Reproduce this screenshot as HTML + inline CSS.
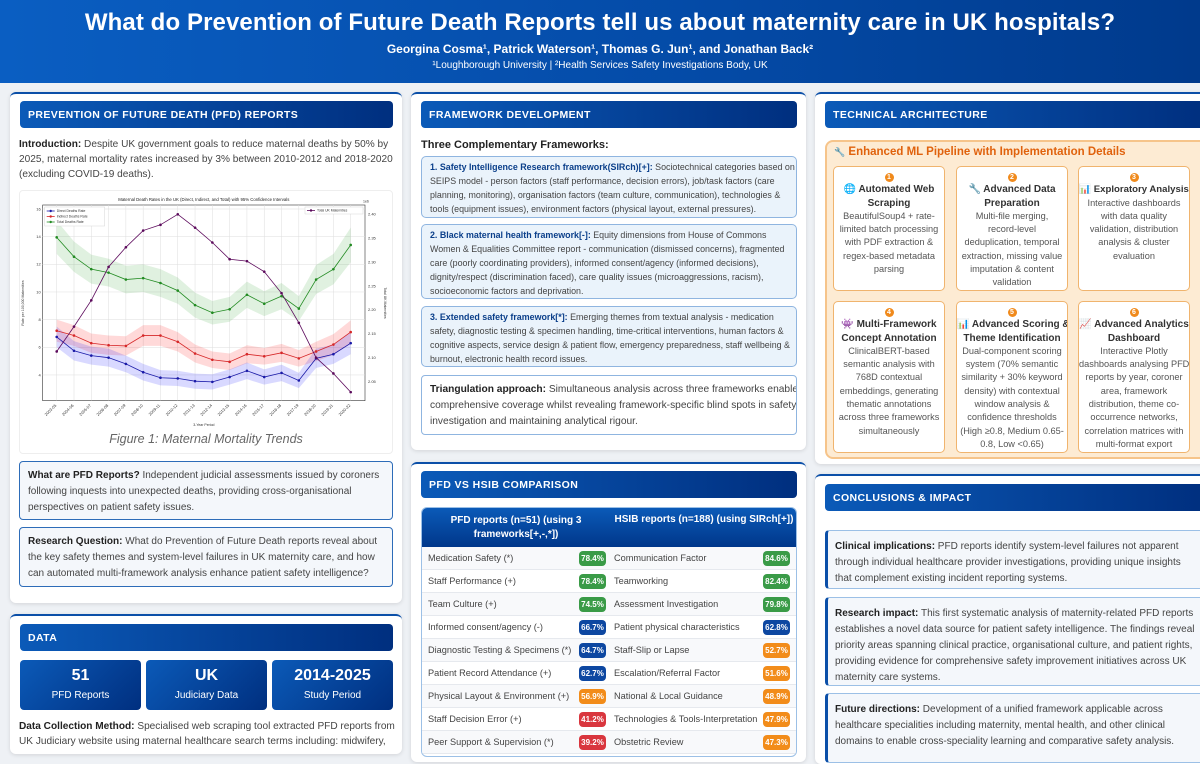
<!DOCTYPE html>
<html><head><meta charset="utf-8">
<style>
*{box-sizing:border-box;margin:0;padding:0}
body{width:1200px;height:747px;overflow:hidden;background:#eef1f5;font-family:"Liberation Sans",Arial,sans-serif;color:#333;position:relative}
.abs{position:absolute}
#hdr{left:0;top:0;width:1200px;height:83px;background:linear-gradient(90deg,#0a5ec2,#044aa6 60%,#003a8c);color:#fff;text-align:center}
#hdr h1{font-size:24px;font-weight:900;margin-top:9px;letter-spacing:0.1px}
#hdr .au{font-size:12px;font-weight:bold;margin-top:5px}
#hdr .af{font-size:10px;margin-top:4px}
.card{position:absolute;background:#fff;border-top:2px solid #0b4fa8;border-radius:6px;box-shadow:0 1px 4px rgba(0,0,0,.12)}
.sh{position:absolute;height:27px;border-radius:4px;background:linear-gradient(90deg,#0b5ab8,#002f7f);color:#fff;font-weight:900;font-size:10.5px;letter-spacing:.4px;padding:8px 8px;white-space:nowrap;overflow:hidden}
.t{position:absolute;font-size:10.1px;line-height:15px;white-space:nowrap;color:#444}
.t b{color:#222}
.ib{position:absolute;border:1px solid #8fb5e0;background:#eaf3fb;border-radius:5px;padding:3px 8px;font-size:8.9px;line-height:14px;white-space:nowrap;color:#444;overflow:hidden}
.ib b{color:#0b3f8a}
.qb{position:absolute;border:1px solid #2d6cb8;background:#f4f7fb;border-radius:4px;padding:6px 8px;font-size:10px;line-height:16px;white-space:nowrap;color:#444;overflow:hidden}
.qb b{color:#222}
.stat{position:absolute;top:660px;height:50px;width:121px;border-radius:4px;background:linear-gradient(135deg,#0b5ab8,#002f7f);color:#fff;text-align:center}
.stat .n{font-size:16px;font-weight:bold;margin-top:7px}
.stat .l{font-size:10px;margin-top:5px}
.pb{position:absolute;background:#fff;border:1px solid #f0b46e;border-radius:5px;text-align:center;font-size:9.2px;line-height:13.3px;color:#555;padding-top:3px;overflow:hidden;white-space:nowrap}
.pb .num{display:inline-block;width:9px;height:9px;border-radius:50%;background:#f08a1c;color:#fff;font-size:7px;line-height:9px;font-weight:bold}
.pb .tt{font-weight:bold;color:#333;font-size:10px}
.cb{position:absolute;left:825px;width:380px;border:1px solid #9cc0e6;border-left:3px solid #0b4fa8;background:#f4f7fb;border-radius:4px;padding:8px 7px;font-size:10px;line-height:16px;white-space:nowrap;color:#444;overflow:hidden}
.cb b{color:#222}
#tbl{position:absolute;left:421px;top:507px;width:376px;height:250px;border:1px solid #9cc0e6;border-radius:6px;overflow:hidden;background:#fff}
#tbl .th{height:39px;background:linear-gradient(180deg,#0b5ab8,#00378a);color:#fff;font-weight:bold;font-size:10px;position:relative}
.row{position:absolute;left:0;width:376px;height:23px;border-bottom:1px solid #e6e9ee;font-size:9.2px;color:#444}
.row span{position:absolute;top:6px;white-space:nowrap}
.bd{position:absolute;top:4px;height:15px;width:27px;border-radius:4px;color:#fff;font-size:8px;font-weight:bold;text-align:center;line-height:15px}
</style></head><body>
<div id="hdr" class="abs">
<h1>What do Prevention of Future Death Reports tell us about maternity care in UK hospitals?</h1>
<div class="au">Georgina Cosma¹, Patrick Waterson¹, Thomas G. Jun¹, and Jonathan Back²</div>
<div class="af">¹Loughborough University | ²Health Services Safety Investigations Body, UK</div>
</div>

<!-- Column 1 -->
<div class="card" style="left:10px;top:92px;width:392px;height:511px"></div>
<div class="sh" style="left:20px;top:101px;width:373px">PREVENTION OF FUTURE DEATH (PFD) REPORTS</div>
<div class="t" style="left:19px;top:137px"><b>Introduction:</b> Despite UK government goals to reduce maternal deaths by 50% by<br>2025, maternal mortality rates increased by 3% between 2010-2012 and 2018-2020<br>(excluding COVID-19 deaths).</div>
<div class="abs" style="left:19px;top:190px;width:374px;height:264px;border:1px solid #eee;border-radius:4px;background:#fff"></div>
<svg id="chart" class="abs" style="left:20px;top:190px" width="375" height="240"></svg>
<div class="abs" style="left:19px;top:432px;width:374px;text-align:center;font-style:italic;font-size:12.5px;color:#666">Figure 1: Maternal Mortality Trends</div>
<div class="qb" style="left:19px;top:461px;width:374px;height:59px"><b>What are PFD Reports?</b> Independent judicial assessments issued by coroners<br>following inquests into unexpected deaths, providing cross-organisational<br>perspectives on patient safety issues.</div>
<div class="qb" style="left:19px;top:527px;width:374px;height:60px"><b>Research Question:</b> What do Prevention of Future Death reports reveal about<br>the key safety themes and system-level failures in UK maternity care, and how<br>can automated multi-framework analysis enhance patient safety intelligence?</div>

<div class="card" style="left:10px;top:614px;width:392px;height:140px"></div>
<div class="sh" style="left:20px;top:624px;width:373px">DATA</div>
<div class="stat" style="left:20px"><div class="n">51</div><div class="l">PFD Reports</div></div>
<div class="stat" style="left:146px"><div class="n">UK</div><div class="l">Judiciary Data</div></div>
<div class="stat" style="left:272px"><div class="n">2014-2025</div><div class="l">Study Period</div></div>
<div class="t" style="left:19px;top:719px"><b>Data Collection Method:</b> Specialised web scraping tool extracted PFD reports from<br>UK Judiciary website using maternal healthcare search terms including: midwifery,</div>

<!-- Column 2 -->
<div class="card" style="left:411px;top:92px;width:395px;height:358px"></div>
<div class="sh" style="left:421px;top:101px;width:376px">FRAMEWORK DEVELOPMENT</div>
<div class="t" style="left:421px;top:138px;font-weight:bold;color:#222;font-size:11px">Three Complementary Frameworks:</div>
<div class="ib" style="left:421px;top:156px;width:376px;height:62px"><b>1. Safety Intelligence Research framework(SIRch)[+]:</b> Sociotechnical categories based on<br>SEIPS model - person factors (staff performance, decision errors), job/task factors (care<br>planning, monitoring), organisation factors (team culture, communication), technologies &amp;<br>tools (equipment issues), environment factors (physical layout, external pressures).</div>
<div class="ib" style="left:421px;top:224px;width:376px;height:75px"><b>2. Black maternal health framework[-]:</b> Equity dimensions from House of Commons<br>Women &amp; Equalities Committee report - communication (dismissed concerns), fragmented<br>care (poorly coordinating providers), informed consent/agency (informed decisions),<br>dignity/respect (discrimination faced), care quality issues (microaggressions, racism),<br>socioeconomic factors and deprivation.</div>
<div class="ib" style="left:421px;top:306px;width:376px;height:61px"><b>3. Extended safety framework[*]:</b> Emerging themes from textual analysis - medication<br>safety, diagnostic testing &amp; specimen handling, time-critical interventions, human factors &amp;<br>cognitive aspects, service design &amp; patient flow, emergency preparedness, staff wellbeing &amp;<br>burnout, electronic health record issues.</div>
<div class="qb" style="left:421px;top:375px;width:376px;height:60px;border-color:#8fb5e0;background:#fff;font-size:10.2px"><b>Triangulation approach:</b> Simultaneous analysis across three frameworks enables<br>comprehensive coverage whilst revealing framework-specific blind spots in safety<br>investigation and maintaining analytical rigour.</div>

<div class="card" style="left:411px;top:462px;width:395px;height:300px"></div>
<div class="sh" style="left:421px;top:471px;width:376px">PFD VS HSIB COMPARISON</div>
<div id="tbl">
<div class="th">
<div class="abs" style="left:0;width:188px;top:6px;text-align:center;line-height:14px">PFD reports (n=51) (using 3<br>frameworks[+,-,*])</div>
<div class="abs" style="left:188px;width:188px;top:6px;text-align:center">HSIB reports (n=188) (using SIRch[+])</div>
</div>
</div>

<!-- Column 3 -->
<div class="card" style="left:815px;top:92px;width:400px;height:372px"></div>
<div class="sh" style="left:825px;top:101px;width:380px">TECHNICAL ARCHITECTURE</div>
<div class="abs" style="left:825px;top:140px;width:385px;height:319px;background:#fdebd3;border:2px solid #f6c48a;border-radius:8px"></div>
<div class="abs" style="left:834px;top:146px;font-size:11.5px;font-weight:bold;color:#e0620d"><span style="color:#aaa;font-size:9px">🔧</span> Enhanced ML Pipeline with Implementation Details</div>
<div class="pb" style="left:833px;top:166px;width:112px;height:125px"><span class="num">1</span><br><span class="tt">🌐 Automated Web<br>Scraping</span><br>BeautifulSoup4 + rate-<br>limited batch processing<br>with PDF extraction &amp;<br>regex-based metadata<br>parsing</div>
<div class="pb" style="left:956px;top:166px;width:112px;height:125px"><span class="num">2</span><br><span class="tt">🔧 Advanced Data<br>Preparation</span><br>Multi-file merging,<br>record-level<br>deduplication, temporal<br>extraction, missing value<br>imputation &amp; content<br>validation</div>
<div class="pb" style="left:1078px;top:166px;width:112px;height:125px"><span class="num">3</span><br><span class="tt" style="font-size:9.6px">📊 Exploratory Analysis</span><br>Interactive dashboards<br>with data quality<br>validation, distribution<br>analysis &amp; cluster<br>evaluation</div>
<div class="pb" style="left:833px;top:301px;width:112px;height:152px"><span class="num">4</span><br><span class="tt">👾 Multi-Framework<br>Concept Annotation</span><br>ClinicalBERT-based<br>semantic analysis with<br>768D contextual<br>embeddings, generating<br>thematic annotations<br>across three frameworks<br>simultaneously</div>
<div class="pb" style="left:956px;top:301px;width:112px;height:152px"><span class="num">5</span><br><span class="tt">📊 Advanced Scoring &amp;<br>Theme Identification</span><br>Dual-component scoring<br>system (70% semantic<br>similarity + 30% keyword<br>density) with contextual<br>window analysis &amp;<br>confidence thresholds<br>(High ≥0.8, Medium 0.65-<br>0.8, Low &lt;0.65)</div>
<div class="pb" style="left:1078px;top:301px;width:112px;height:152px"><span class="num">6</span><br><span class="tt">📈 Advanced Analytics<br>Dashboard</span><br>Interactive Plotly<br>dashboards analysing PFD<br>reports by year, coroner<br>area, framework<br>distribution, theme co-<br>occurrence networks,<br>correlation matrices with<br>multi-format export</div>

<div class="card" style="left:815px;top:474px;width:400px;height:290px"></div>
<div class="sh" style="left:825px;top:484px;width:380px">CONCLUSIONS &amp; IMPACT</div>
<div class="cb" style="top:530px;height:59px"><b>Clinical implications:</b> PFD reports identify system-level failures not apparent<br>through individual healthcare provider investigations, providing unique insights<br>that complement existing incident reporting systems.</div>
<div class="cb" style="top:597px;height:89px"><b>Research impact:</b> This first systematic analysis of maternity-related PFD reports<br>establishes a novel data source for patient safety intelligence. The findings reveal<br>priority areas spanning clinical practice, organisational culture, and patient rights,<br>providing evidence for comprehensive safety improvement initiatives across UK<br>maternity care systems.</div>
<div class="cb" style="top:693px;height:70px"><b>Future directions:</b> Development of a unified framework applicable across<br>healthcare specialities including maternity, mental health, and other clinical<br>domains to enable cross-speciality learning and comparative safety analysis.</div>

<script>
// ---- Table data ----
const pfdThemes=["Medication Safety (*)","Staff Performance (+)","Team Culture (+)","Informed consent/agency (-)","Diagnostic Testing & Specimens (*)","Patient Record Attendance (+)","Physical Layout & Environment (+)","Staff Decision Error (+)","Peer Support & Supervision (*)"];
const pfdPct=[78.4,78.4,74.5,66.7,64.7,62.7,56.9,41.2,39.2];
const hsibThemes=["Communication Factor","Teamworking","Assessment Investigation","Patient physical characteristics","Staff-Slip or Lapse","Escalation/Referral Factor","National & Local Guidance","Technologies & Tools-Interpretation","Obstetric Review"];
const hsibPct=[84.6,82.4,79.8,62.8,52.7,51.6,48.9,47.9,47.3];
function badgeColor(v){return v>=70?'#3a9b47':(v>=60?'#0d47a1':(v>=45?'#f28c1a':'#d9363e'));}
const tbl=document.getElementById('tbl');
for(let i=0;i<pfdThemes.length;i++){
  const r=document.createElement('div');
  r.className='row';
  
  
  r.style.top=(39+i*23)+'px';
  r.style.background=i%2?'#fff':'#f8f9fb';
  const a=document.createElement('span');a.style.left='6px';a.textContent=pfdThemes[i];
  
  
  const b=document.createElement('div');b.className='bd';b.style.left='157px';b.style.background=badgeColor(pfdPct[i]);b.textContent=pfdPct[i].toFixed(1)+'%';
  
  
  const c=document.createElement('span');c.style.left='192px';c.textContent=hsibThemes[i];
  
  
  const d=document.createElement('div');d.className='bd';d.style.left='341px';d.style.background=badgeColor(hsibPct[i]);d.textContent=hsibPct[i].toFixed(1)+'%';
  
  
  r.append(a,b,c,d);tbl.appendChild(r);
}

// ---- Chart data ----
const periods=["2003-05","2004-06","2005-07","2006-08","2007-09","2008-10","2009-11","2010-12","2011-13","2012-14","2013-15","2014-16","2015-17","2016-18","2017-19","2018-20","2019-21","2020-22"];
const directRate=[6.75,5.75,5.4,5.25,4.8,4.2,3.8,3.75,3.55,3.5,3.85,4.3,3.85,4.15,3.6,5.2,5.5,6.3];
const indirectRate=[7.2,6.85,6.3,6.15,6.1,6.85,6.85,6.4,5.55,5.1,4.95,5.5,5.35,5.6,5.2,5.7,6.2,7.1];
const totalRate=[13.95,12.55,11.65,11.4,10.9,11.0,10.65,10.1,9.05,8.5,8.75,9.8,9.15,9.7,8.8,10.9,11.65,13.4];
const directCI=[0.75,0.7,0.65,0.65,0.6,0.6,0.55,0.55,0.55,0.55,0.55,0.6,0.55,0.6,0.55,0.7,0.7,0.8];
const indirectCI=[0.8,0.75,0.7,0.7,0.7,0.75,0.75,0.7,0.65,0.6,0.6,0.65,0.6,0.65,0.6,0.7,0.75,0.85];
const totalCI=[1.2,1.1,1.05,1.0,1.0,1.0,1.0,0.95,0.9,0.85,0.9,0.95,0.9,0.95,0.9,1.05,1.1,1.25];
const maternities=[2.113,2.165,2.22,2.29,2.331,2.366,2.378,2.40,2.372,2.341,2.306,2.302,2.28,2.235,2.173,2.10,2.067,2.028];
const leftTicks=[4,6,8,10,12,14,16];
const rightTicks=[2.05,2.10,2.15,2.20,2.25,2.30,2.35,2.40];

const svg=document.getElementById('chart');const NS='http://www.w3.org/2000/svg';
const PL=22.7,PR=345,PT=15,PB=210.7;
const xS=i=>36.7+i*(PR-PL-28.3)/(periods.length-1);
const yL=v=>19+(16-v)*13.83;
const yR=m=>24.3+(2.40-m)/0.05*23.9;
function el(tag,attrs,name){const e=document.createElementNS(NS,tag);for(const k in attrs)e.setAttribute(k,attrs[k]);
  
  
  svg.appendChild(e);return e;}
el('rect',{x:PL,y:PT,width:PR-PL,height:PB-PT,fill:'#fff',stroke:'#333','stroke-width':0.6},'plot-area');
periods.forEach((p,i)=>{el('line',{x1:xS(i),x2:xS(i),y1:PT,y2:PB,stroke:'#ddd','stroke-width':0.5},'x-gridline');
  const t=el('text',{x:xS(i),y:PB+5,'font-size':4,fill:'#333','text-anchor':'end',transform:`rotate(-45 ${xS(i)} ${PB+5})`},'x-tick-label');t.textContent=p;});
leftTicks.forEach(v=>{el('line',{x1:PL,x2:PR,y1:yL(v),y2:yL(v),stroke:'#ddd','stroke-width':0.5},'y-gridline');
  const t=el('text',{x:PL-2,y:yL(v)+1.3,'font-size':4,fill:'#333','text-anchor':'end'},'left-tick-label');t.textContent=v;});
rightTicks.forEach(v=>{const t=el('text',{x:PR+3,y:yR(v)+1.3,'font-size':4,fill:'#333'},'right-tick-label');t.textContent=v.toFixed(2);});
function band(vals,ci,color,name){let d='';vals.forEach((v,i)=>{d+=(i?'L':'M')+xS(i)+','+yL(v+ci[i]);});
  for(let i=vals.length-1;i>=0;i--)d+='L'+xS(i)+','+yL(vals[i]-ci[i]);el('path',{d:d+'Z',fill:color,opacity:0.15},name);}
function series(vals,yf,color,name){el('polyline',{points:vals.map((v,i)=>xS(i)+','+yf(v)).join(' '),fill:'none',stroke:color,'stroke-width':0.8},name+'-line');
  vals.forEach((v,i)=>el('circle',{cx:xS(i),cy:yf(v),r:1.3,fill:color},name+'-point'));}
band(totalRate,totalCI,'#2ca02c','total-ci-band');band(indirectRate,indirectCI,'#ff0000','indirect-ci-band');band(directRate,directCI,'#0000ff','direct-ci-band');
series(totalRate,yL,'#228b22','total-deaths');series(indirectRate,yL,'#d62728','indirect-deaths');series(directRate,yL,'#1a1aa8','direct-deaths');
series(maternities,yR,'#5c0a5c','total-maternities');
let tt=el('text',{x:(PL+PR)/2,y:11,'font-size':4.3,fill:'#222','text-anchor':'middle'},'chart-title');tt.textContent='Maternal Death Rates in the UK (Direct, Indirect, and Total) with 95% Confidence Intervals';
tt=el('text',{x:PR-2,y:12.5,'font-size':3.5,fill:'#333'},'right-axis-scale');tt.textContent='1e6';
tt=el('text',{x:(PL+PR)/2,y:236,'font-size':3.5,fill:'#333','text-anchor':'middle'},'x-axis-title');tt.textContent='3-Year Period';
tt=el('text',{x:4,y:113,'font-size':3.5,fill:'#333','text-anchor':'middle',transform:'rotate(-90 4 113)'},'left-axis-title');tt.textContent='Rate per 100,000 Maternities';
tt=el('text',{x:364,y:113,'font-size':3.5,fill:'#333','text-anchor':'middle',transform:'rotate(90 364 113)'},'right-axis-title');tt.textContent='Total UK Maternities';
el('rect',{x:PL+2,y:PT+2,width:60,height:19,fill:'#fff',stroke:'#ccc','stroke-width':0.4},'legend-left');
[['Direct Deaths Rate','#1a1aa8'],['Indirect Deaths Rate','#d62728'],['Total Deaths Rate','#228b22']].forEach((l,k)=>{
  const y=PT+6+k*5.5;el('line',{x1:PL+4,x2:PL+12,y1:y,y2:y,stroke:l[1],'stroke-width':0.8},'legend-swatch');el('circle',{cx:PL+8,cy:y,r:1.2,fill:l[1]},'legend-marker');
  const t=el('text',{x:PL+14,y:y+1.2,'font-size':3.4,fill:'#333'},'legend-entry');t.textContent=l[0];});
el('rect',{x:PR-60,y:PT+2,width:58,height:7,fill:'#fff',stroke:'#ccc','stroke-width':0.4},'legend-right');
el('line',{x1:PR-58,x2:PR-50,y1:PT+5.5,y2:PT+5.5,stroke:'#5c0a5c','stroke-width':0.8},'legend-swatch');el('circle',{cx:PR-54,cy:PT+5.5,r:1.2,fill:'#5c0a5c'},'legend-marker');
tt=el('text',{x:PR-48,y:PT+6.7,'font-size':3.4,fill:'#333'},'legend-entry');tt.textContent='Total UK Maternities';
</script>
</body></html>
